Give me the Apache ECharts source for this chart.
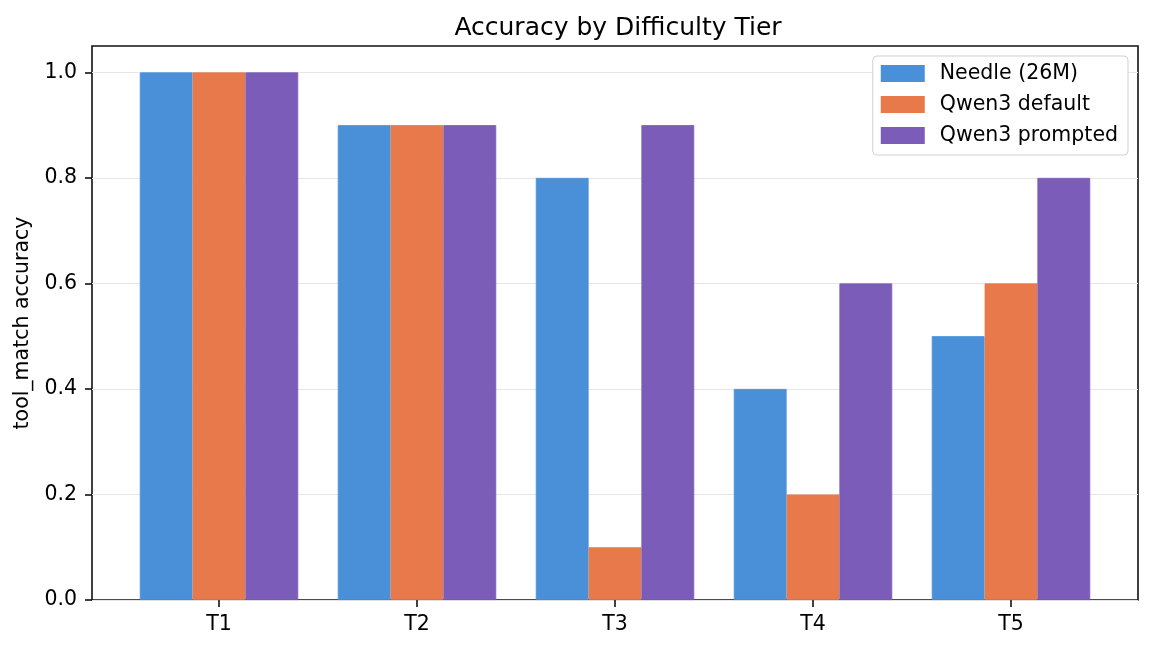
<!DOCTYPE html>
<html lang="en">
<head>
    <meta charset="UTF-8">
    <title>Accuracy by Difficulty Tier</title>
    <script src="https://cdn.jsdelivr.net/npm/echarts@6/dist/echarts.min.js"></script>
    <style>
        html, body { margin: 0; padding: 0; background: #fff; }
        #chart { width: 1153px; height: 650px; }
    </style>
</head>
<body>
<div id="chart"></div>
<script type="text/javascript">
    // data
    var tiers = ['T1', 'T2', 'T3', 'T4', 'T5'];
    var needle = [1.0, 0.9, 0.8, 0.4, 0.5];
    var qwenDefault = [1.0, 0.9, 0.1, 0.2, 0.6];
    var qwenPrompted = [1.0, 0.9, 0.9, 0.6, 0.8];
    var yTicks = [0, 0.2, 0.4, 0.6, 0.8, 1.0];

    var font = 'DejaVu Sans';
    var chart = echarts.init(document.getElementById('chart'));

    function barSeries(name, data, color) {
        return {
            name: name,
            type: 'bar',
            xAxisIndex: 1,
            yAxisIndex: 1,
            data: data,
            barGap: '0%',
            barCategoryGap: '20%',
            // thin border in the same colour hides the seams between bars
            itemStyle: { color: color, borderColor: color, borderWidth: 0.8 },
            emphasis: { disabled: true }
        };
    }

    var option = {
        animation: false,
        title: {
            text: 'Accuracy by Difficulty Tier',
            left: 613,
            textAlign: 'center',
            top: 11,
            textStyle: { fontFamily: font, fontSize: 25, fontWeight: 'normal', color: '#000' }
        },
        legend: {
            orient: 'vertical',
            right: 25,
            top: 56,
            icon: 'rect',
            itemWidth: 42,
            itemHeight: 15,
            itemGap: 10,
            padding: [7, 10, 9, 8],
            backgroundColor: '#fff',
            borderColor: '#d0d0d0',
            borderWidth: 1,
            borderRadius: 4,
            textStyle: { fontFamily: font, fontSize: 20.5, lineHeight: 21, color: '#000', padding: [0, 0, 0, 11] },
            data: ['Needle (26M)', 'Qwen3 default', 'Qwen3 prompted']
        },
        grid: [
            // frame
            { left: 92, right: 15, top: 46, bottom: 50, show: true, borderColor: '#111', borderWidth: 1.6, backgroundColor: 'transparent' },
            // bars
            { left: 120, width: 990, top: 46, bottom: 50 }
        ],
        xAxis: [
            { gridIndex: 0, type: 'value', min: 0, max: 1, show: false },
            {
                gridIndex: 1,
                type: 'category',
                data: tiers,
                axisLine: { show: false },
                axisTick: { show: true, alignWithLabel: true, length: 7, lineStyle: { color: '#111', width: 1.6 } },
                axisLabel: { fontFamily: font, fontSize: 20.5, color: '#000', margin: 14 }
            }
        ],
        yAxis: [
            {
                gridIndex: 0,
                type: 'value',
                min: 0,
                max: 1.05,
                name: 'tool_match accuracy',
                nameLocation: 'middle',
                nameRotate: 90,
                nameGap: 56,
                nameTextStyle: { fontFamily: font, fontSize: 20.5, color: '#000' },
                axisLine: { show: false },
                axisTick: { show: true, length: 7, customValues: yTicks, lineStyle: { color: '#111', width: 1.6 } },
                axisLabel: {
                    fontFamily: font, fontSize: 20.5, color: '#000', margin: 15,
                    customValues: yTicks,
                    formatter: function (v) { return v.toFixed(1); }
                },
                splitLine: { show: true, lineStyle: { color: '#e6e6e6', width: 1.2 } }
            },
            { gridIndex: 1, type: 'value', min: 0, max: 1.05, show: false, splitLine: { show: false } }
        ],
        series: [
            barSeries('Needle (26M)', needle, '#4a90d9'),
            barSeries('Qwen3 default', qwenDefault, '#e8794b'),
            barSeries('Qwen3 prompted', qwenPrompted, '#7b5cb8')
        ]
    };

    chart.setOption(option);
</script>
</body>
</html>
